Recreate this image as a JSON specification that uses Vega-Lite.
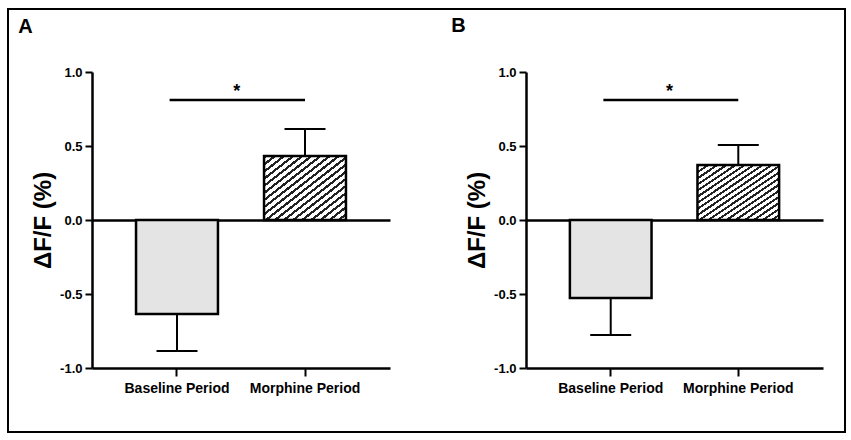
{
  "$schema": "https://vega.github.io/schema/vega-lite/v6.json",
  "width": 837,
  "height": 423,
  "autosize": {"type": "none"},
  "padding": {"left": 8, "top": 9, "right": 6, "bottom": 8},
  "background": "white",
  "config": {"view": {"stroke": "black", "strokeWidth": 2}, "font": "Liberation Sans"},
  "datasets": {
    "bars": [
      {"panel": "A", "period": "Baseline Period", "mean": -0.635, "errEnd": -0.885},
      {"panel": "A", "period": "Morphine Period", "mean": 0.432, "errEnd": 0.615},
      {"panel": "B", "period": "Baseline Period", "mean": -0.527, "errEnd": -0.777},
      {"panel": "B", "period": "Morphine Period", "mean": 0.372, "errEnd": 0.507}
    ],
    "sig": [
      {"panel": "A", "from": "Baseline Period", "to": "Morphine Period", "y": 0.81, "label": "*"},
      {"panel": "B", "from": "Baseline Period", "to": "Morphine Period", "y": 0.81, "label": "*"}
    ]
  },
  "layer": [
    {
      "layer": [
        {
          "data": {"name": "bars"},
          "transform": [{"filter": "datum.panel === 'A'"}],
          "mark": {"type": "bar", "stroke": "black", "strokeWidth": 2.5},
          "encoding": {
            "x": {
              "field": "period", "type": "nominal",
              "scale": {"range": [84, 382], "paddingInner": 0.36, "paddingOuter": 0.344},
              "axis": {"orient": "bottom", "offset": -64, "title": "A", "titleX": 17, "titleY": -342, "titleFontSize": 20, "titleFontWeight": "bold", "titleAlign": "center", "titleBaseline": "middle", "titleAngle": 0, "titleColor": "black", "labelAngle": 0, "labelFontSize": 14, "labelFontWeight": "bold", "labelColor": "black", "labelPadding": 5, "domainColor": "black", "domainWidth": 2.5, "tickColor": "black", "tickWidth": 2, "tickSize": 8, "grid": false}
            },
            "y": {
              "field": "mean", "type": "quantitative",
              "scale": {"domain": [-1, 1], "range": [359, 63], "nice": false},
              "axis": {"orient": "left", "offset": -84, "values": [-1, -0.5, 0, 0.5, 1], "labelExpr": "(datum.value < 0 ? '-' : '') + format(abs(datum.value), '.1f')", "labelFontSize": 13, "labelFontWeight": "bold", "labelColor": "black", "labelPadding": 3, "tickSize": 7, "tickWidth": 2, "tickColor": "black", "domainColor": "black", "domainWidth": 2.5, "grid": true, "gridColor": "black", "gridWidth": 2.5, "gridOpacity": {"condition": {"test": "datum.value === 0", "value": 1}, "value": 0}, "title": "ΔF/F (%)", "titleFontSize": 24, "titleFontWeight": "bold", "titleColor": "black", "titlePadding": 4}
            },
            "fill": {
              "condition": {"test": "datum.period === 'Baseline Period'", "value": "#e4e4e4"},
              "value": {"gradient": "linear", "x1": 0, "y1": 0, "x2": 1, "y2": 1, "stops": [
                {"offset": 0, "color": "#222"}, {"offset": 0.0222, "color": "#222"}, {"offset": 0.0222, "color": "#fff"}, {"offset": 0.0556, "color": "#fff"},
                {"offset": 0.0556, "color": "#222"}, {"offset": 0.0778, "color": "#222"}, {"offset": 0.0778, "color": "#fff"}, {"offset": 0.1111, "color": "#fff"},
                {"offset": 0.1111, "color": "#222"}, {"offset": 0.1333, "color": "#222"}, {"offset": 0.1333, "color": "#fff"}, {"offset": 0.1667, "color": "#fff"},
                {"offset": 0.1667, "color": "#222"}, {"offset": 0.1889, "color": "#222"}, {"offset": 0.1889, "color": "#fff"}, {"offset": 0.2222, "color": "#fff"},
                {"offset": 0.2222, "color": "#222"}, {"offset": 0.2444, "color": "#222"}, {"offset": 0.2444, "color": "#fff"}, {"offset": 0.2778, "color": "#fff"},
                {"offset": 0.2778, "color": "#222"}, {"offset": 0.3, "color": "#222"}, {"offset": 0.3, "color": "#fff"}, {"offset": 0.3333, "color": "#fff"},
                {"offset": 0.3333, "color": "#222"}, {"offset": 0.3556, "color": "#222"}, {"offset": 0.3556, "color": "#fff"}, {"offset": 0.3889, "color": "#fff"},
                {"offset": 0.3889, "color": "#222"}, {"offset": 0.4111, "color": "#222"}, {"offset": 0.4111, "color": "#fff"}, {"offset": 0.4444, "color": "#fff"},
                {"offset": 0.4444, "color": "#222"}, {"offset": 0.4667, "color": "#222"}, {"offset": 0.4667, "color": "#fff"}, {"offset": 0.5, "color": "#fff"},
                {"offset": 0.5, "color": "#222"}, {"offset": 0.5222, "color": "#222"}, {"offset": 0.5222, "color": "#fff"}, {"offset": 0.5556, "color": "#fff"},
                {"offset": 0.5556, "color": "#222"}, {"offset": 0.5778, "color": "#222"}, {"offset": 0.5778, "color": "#fff"}, {"offset": 0.6111, "color": "#fff"},
                {"offset": 0.6111, "color": "#222"}, {"offset": 0.6333, "color": "#222"}, {"offset": 0.6333, "color": "#fff"}, {"offset": 0.6667, "color": "#fff"},
                {"offset": 0.6667, "color": "#222"}, {"offset": 0.6889, "color": "#222"}, {"offset": 0.6889, "color": "#fff"}, {"offset": 0.7222, "color": "#fff"},
                {"offset": 0.7222, "color": "#222"}, {"offset": 0.7444, "color": "#222"}, {"offset": 0.7444, "color": "#fff"}, {"offset": 0.7778, "color": "#fff"},
                {"offset": 0.7778, "color": "#222"}, {"offset": 0.8, "color": "#222"}, {"offset": 0.8, "color": "#fff"}, {"offset": 0.8333, "color": "#fff"},
                {"offset": 0.8333, "color": "#222"}, {"offset": 0.8556, "color": "#222"}, {"offset": 0.8556, "color": "#fff"}, {"offset": 0.8889, "color": "#fff"},
                {"offset": 0.8889, "color": "#222"}, {"offset": 0.9111, "color": "#222"}, {"offset": 0.9111, "color": "#fff"}, {"offset": 0.9444, "color": "#fff"},
                {"offset": 0.9444, "color": "#222"}, {"offset": 0.9667, "color": "#222"}, {"offset": 0.9667, "color": "#fff"}, {"offset": 1, "color": "#fff"}
              ]}
            }
          }
        },
        {
          "data": {"name": "bars"},
          "transform": [{"filter": "datum.panel === 'A'"}],
          "mark": {"type": "rule", "stroke": "black", "strokeWidth": 2},
          "encoding": {
            "x": {"field": "period", "type": "nominal"},
            "y": {"field": "mean", "type": "quantitative"},
            "y2": {"field": "errEnd"}
          }
        },
        {
          "data": {"name": "bars"},
          "transform": [{"filter": "datum.panel === 'A'"}],
          "mark": {"type": "tick", "color": "black", "size": 41, "thickness": 2, "opacity": 1},
          "encoding": {
            "x": {"field": "period", "type": "nominal"},
            "y": {"field": "errEnd", "type": "quantitative"}
          }
        },
        {
          "data": {"name": "sig"},
          "transform": [{"filter": "datum.panel === 'A'"}],
          "mark": {"type": "rule", "stroke": "black", "strokeWidth": 2.5},
          "encoding": {
            "x": {"field": "from", "type": "nominal", "bandPosition": 0.41},
            "x2": {"field": "to"},
            "y": {"field": "y", "type": "quantitative"}
          }
        },
        {
          "data": {"name": "sig"},
          "transform": [{"filter": "datum.panel === 'A'"}],
          "mark": {"type": "text", "fontSize": 18, "fontWeight": "bold", "color": "black", "baseline": "alphabetic", "align": "center", "dy": -3},
          "encoding": {
            "x": {"field": "from", "type": "nominal", "bandPosition": 1.23},
            "y": {"field": "y", "type": "quantitative"},
            "text": {"field": "label"}
          }
        }
      ]
    },
    {
      "layer": [
        {
          "data": {"name": "bars"},
          "transform": [{"filter": "datum.panel === 'B'"}],
          "mark": {"type": "bar", "stroke": "black", "strokeWidth": 2.5},
          "encoding": {
            "x": {
              "field": "period", "type": "nominal",
              "scale": {"range": [518, 815], "paddingInner": 0.36, "paddingOuter": 0.344},
              "axis": {"orient": "bottom", "offset": -64, "title": "B", "titleX": 450, "titleY": -343, "titleFontSize": 20, "titleFontWeight": "bold", "titleAlign": "center", "titleBaseline": "middle", "titleAngle": 0, "titleColor": "black", "labelAngle": 0, "labelFontSize": 14, "labelFontWeight": "bold", "labelColor": "black", "labelPadding": 5, "domainColor": "black", "domainWidth": 2.5, "tickColor": "black", "tickWidth": 2, "tickSize": 8, "grid": false}
            },
            "y": {
              "field": "mean", "type": "quantitative",
              "scale": {"domain": [-1, 1], "range": [359, 63], "nice": false},
              "axis": {"orient": "left", "offset": -518, "values": [-1, -0.5, 0, 0.5, 1], "labelExpr": "(datum.value < 0 ? '-' : '') + format(abs(datum.value), '.1f')", "labelFontSize": 13, "labelFontWeight": "bold", "labelColor": "black", "labelPadding": 3, "tickSize": 7, "tickWidth": 2, "tickColor": "black", "domainColor": "black", "domainWidth": 2.5, "grid": true, "gridColor": "black", "gridWidth": 2.5, "gridOpacity": {"condition": {"test": "datum.value === 0", "value": 1}, "value": 0}, "title": "ΔF/F (%)", "titleFontSize": 24, "titleFontWeight": "bold", "titleColor": "black", "titlePadding": 4}
            },
            "fill": {
              "condition": {"test": "datum.period === 'Baseline Period'", "value": "#e4e4e4"},
              "value": {"gradient": "linear", "x1": 0, "y1": 0, "x2": 1, "y2": 1, "stops": [
                {"offset": 0, "color": "#222"}, {"offset": 0.0222, "color": "#222"}, {"offset": 0.0222, "color": "#fff"}, {"offset": 0.0556, "color": "#fff"},
                {"offset": 0.0556, "color": "#222"}, {"offset": 0.0778, "color": "#222"}, {"offset": 0.0778, "color": "#fff"}, {"offset": 0.1111, "color": "#fff"},
                {"offset": 0.1111, "color": "#222"}, {"offset": 0.1333, "color": "#222"}, {"offset": 0.1333, "color": "#fff"}, {"offset": 0.1667, "color": "#fff"},
                {"offset": 0.1667, "color": "#222"}, {"offset": 0.1889, "color": "#222"}, {"offset": 0.1889, "color": "#fff"}, {"offset": 0.2222, "color": "#fff"},
                {"offset": 0.2222, "color": "#222"}, {"offset": 0.2444, "color": "#222"}, {"offset": 0.2444, "color": "#fff"}, {"offset": 0.2778, "color": "#fff"},
                {"offset": 0.2778, "color": "#222"}, {"offset": 0.3, "color": "#222"}, {"offset": 0.3, "color": "#fff"}, {"offset": 0.3333, "color": "#fff"},
                {"offset": 0.3333, "color": "#222"}, {"offset": 0.3556, "color": "#222"}, {"offset": 0.3556, "color": "#fff"}, {"offset": 0.3889, "color": "#fff"},
                {"offset": 0.3889, "color": "#222"}, {"offset": 0.4111, "color": "#222"}, {"offset": 0.4111, "color": "#fff"}, {"offset": 0.4444, "color": "#fff"},
                {"offset": 0.4444, "color": "#222"}, {"offset": 0.4667, "color": "#222"}, {"offset": 0.4667, "color": "#fff"}, {"offset": 0.5, "color": "#fff"},
                {"offset": 0.5, "color": "#222"}, {"offset": 0.5222, "color": "#222"}, {"offset": 0.5222, "color": "#fff"}, {"offset": 0.5556, "color": "#fff"},
                {"offset": 0.5556, "color": "#222"}, {"offset": 0.5778, "color": "#222"}, {"offset": 0.5778, "color": "#fff"}, {"offset": 0.6111, "color": "#fff"},
                {"offset": 0.6111, "color": "#222"}, {"offset": 0.6333, "color": "#222"}, {"offset": 0.6333, "color": "#fff"}, {"offset": 0.6667, "color": "#fff"},
                {"offset": 0.6667, "color": "#222"}, {"offset": 0.6889, "color": "#222"}, {"offset": 0.6889, "color": "#fff"}, {"offset": 0.7222, "color": "#fff"},
                {"offset": 0.7222, "color": "#222"}, {"offset": 0.7444, "color": "#222"}, {"offset": 0.7444, "color": "#fff"}, {"offset": 0.7778, "color": "#fff"},
                {"offset": 0.7778, "color": "#222"}, {"offset": 0.8, "color": "#222"}, {"offset": 0.8, "color": "#fff"}, {"offset": 0.8333, "color": "#fff"},
                {"offset": 0.8333, "color": "#222"}, {"offset": 0.8556, "color": "#222"}, {"offset": 0.8556, "color": "#fff"}, {"offset": 0.8889, "color": "#fff"},
                {"offset": 0.8889, "color": "#222"}, {"offset": 0.9111, "color": "#222"}, {"offset": 0.9111, "color": "#fff"}, {"offset": 0.9444, "color": "#fff"},
                {"offset": 0.9444, "color": "#222"}, {"offset": 0.9667, "color": "#222"}, {"offset": 0.9667, "color": "#fff"}, {"offset": 1, "color": "#fff"}
              ]}
            }
          }
        },
        {
          "data": {"name": "bars"},
          "transform": [{"filter": "datum.panel === 'B'"}],
          "mark": {"type": "rule", "stroke": "black", "strokeWidth": 2},
          "encoding": {
            "x": {"field": "period", "type": "nominal"},
            "y": {"field": "mean", "type": "quantitative"},
            "y2": {"field": "errEnd"}
          }
        },
        {
          "data": {"name": "bars"},
          "transform": [{"filter": "datum.panel === 'B'"}],
          "mark": {"type": "tick", "color": "black", "size": 41, "thickness": 2, "opacity": 1},
          "encoding": {
            "x": {"field": "period", "type": "nominal"},
            "y": {"field": "errEnd", "type": "quantitative"}
          }
        },
        {
          "data": {"name": "sig"},
          "transform": [{"filter": "datum.panel === 'B'"}],
          "mark": {"type": "rule", "stroke": "black", "strokeWidth": 2.5},
          "encoding": {
            "x": {"field": "from", "type": "nominal", "bandPosition": 0.41},
            "x2": {"field": "to"},
            "y": {"field": "y", "type": "quantitative"}
          }
        },
        {
          "data": {"name": "sig"},
          "transform": [{"filter": "datum.panel === 'B'"}],
          "mark": {"type": "text", "fontSize": 18, "fontWeight": "bold", "color": "black", "baseline": "alphabetic", "align": "center", "dy": -3},
          "encoding": {
            "x": {"field": "from", "type": "nominal", "bandPosition": 1.22},
            "y": {"field": "y", "type": "quantitative"},
            "text": {"field": "label"}
          }
        }
      ]
    }
  ],
  "resolve": {"scale": {"x": "independent", "y": "independent"}, "axis": {"x": "independent", "y": "independent"}}
}
